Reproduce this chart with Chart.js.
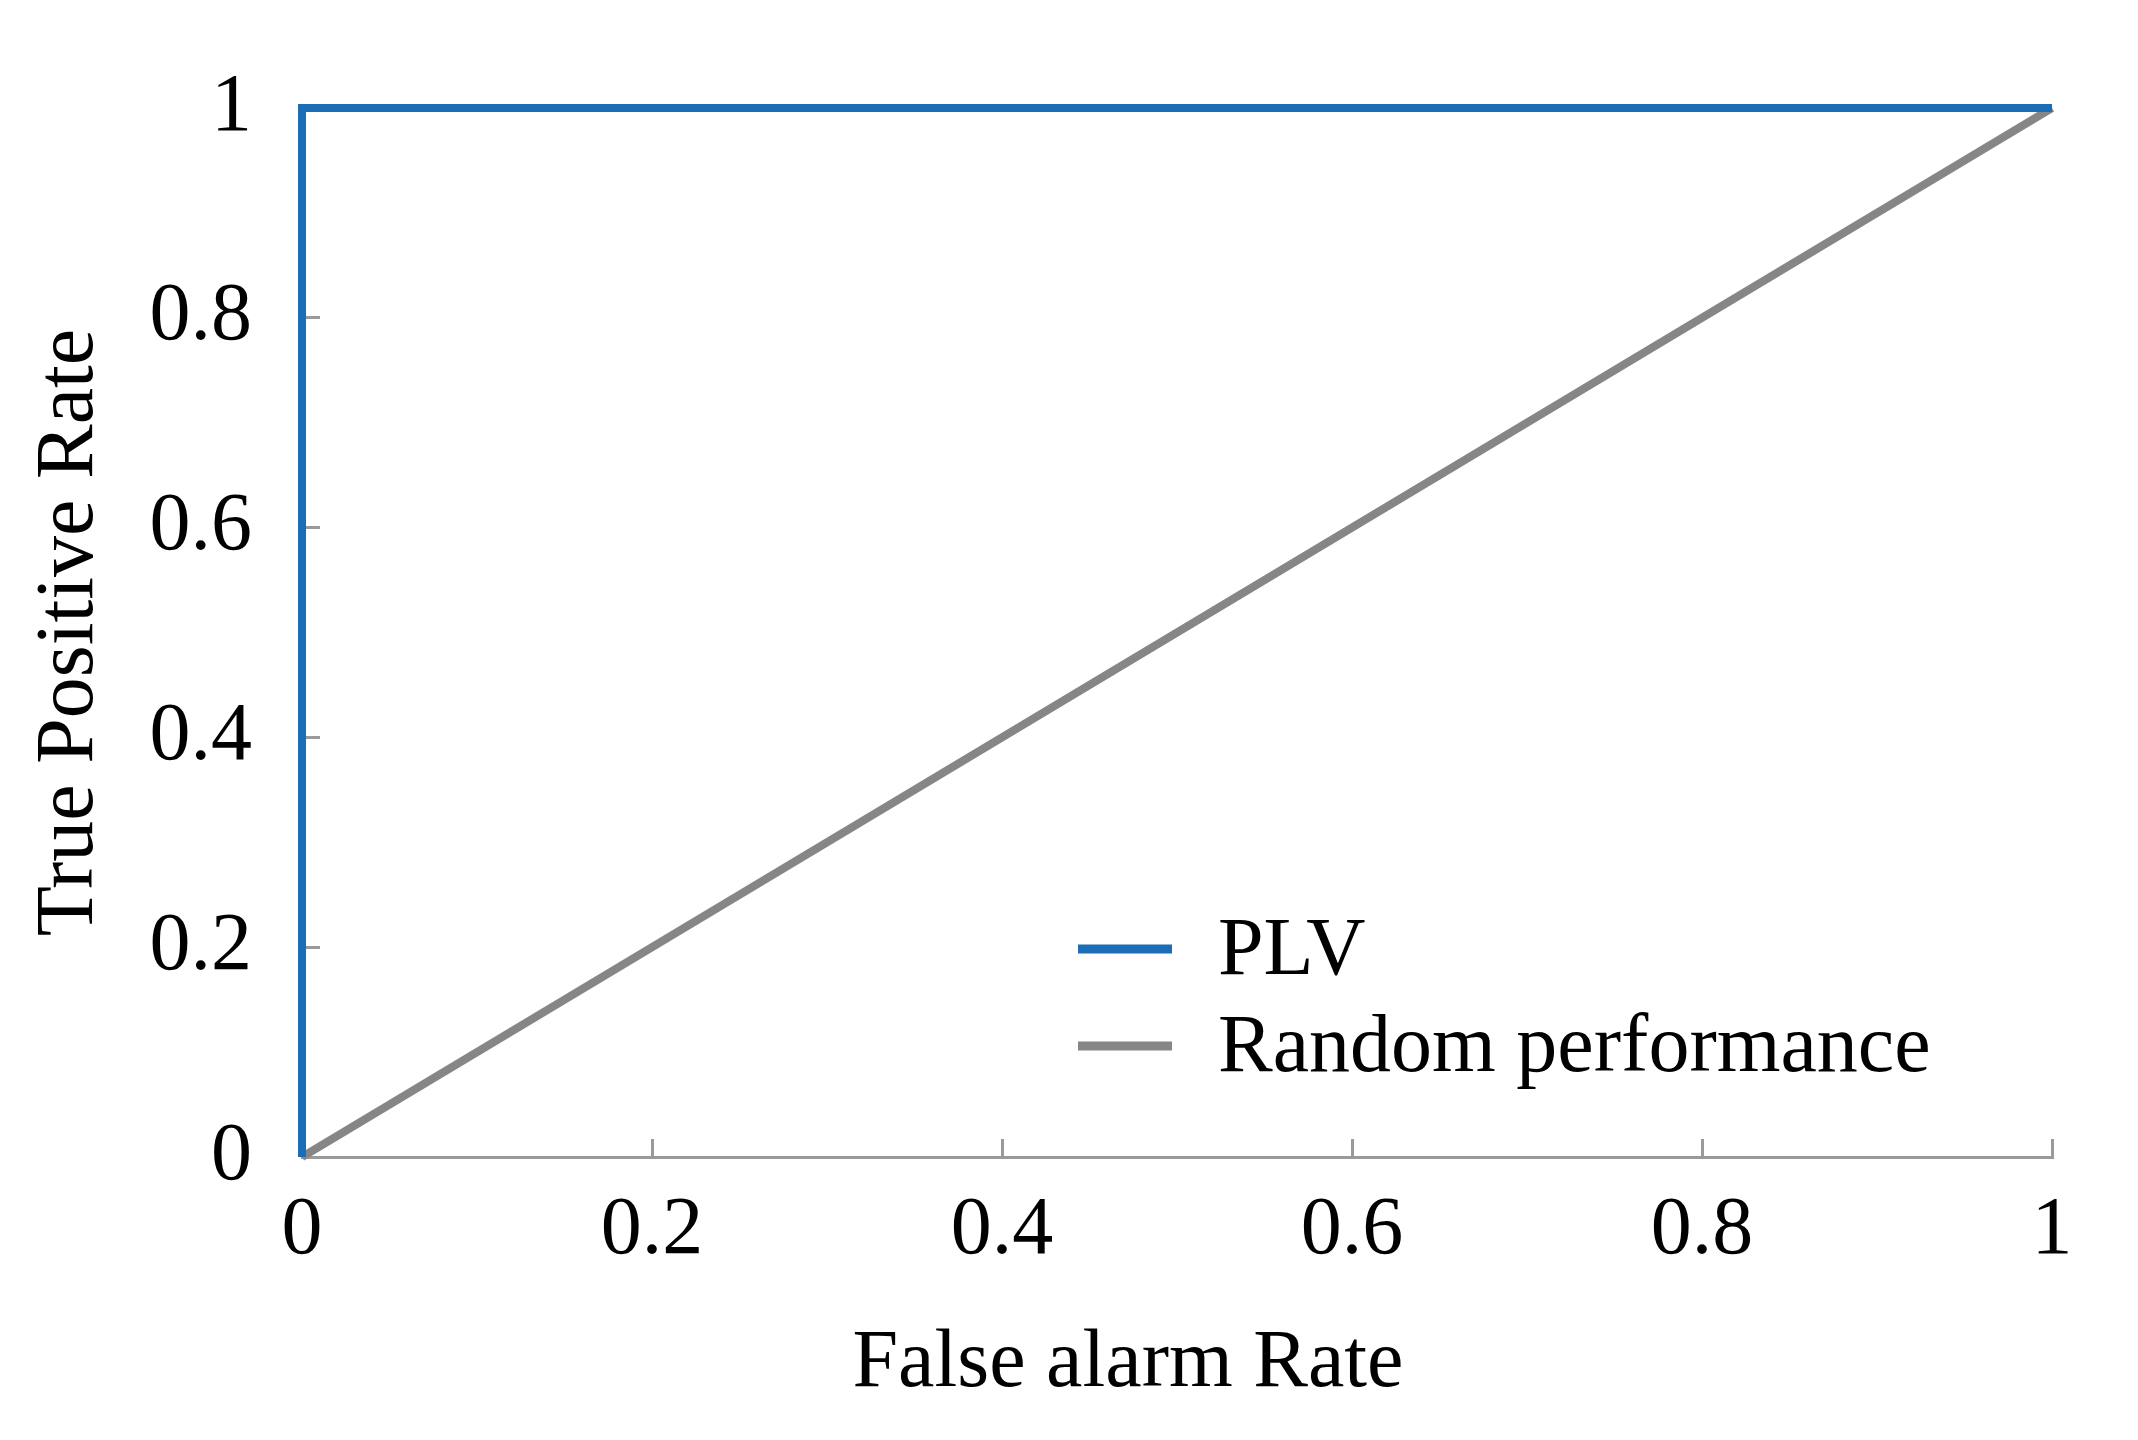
<!DOCTYPE html>
<html>
<head>
<meta charset="utf-8">
<title>ROC curve</title>
<script src="https://cdn.jsdelivr.net/npm/chart.js@4.4.1/dist/chart.umd.min.js"></script>
<style>
  html, body { margin:0; padding:0; background:#fff; }
  #wrap { width:2138px; height:1440px; position:relative; }
</style>
</head>
<body>
<div id="wrap"><canvas id="roc"></canvas></div>
<script>
// data
const plvX = [0, 0, 1];
const plvY = [0, 1, 1];
const randomX = [0, 1];
const randomY = [0, 1];
const seriesNames = ['PLV', 'Random performance'];
const xTickLabels = ['0', '0.2', '0.4', '0.6', '0.8', '1'];
const yTickLabels = ['0', '0.2', '0.4', '0.6', '0.8', '1'];
const xTitle = 'False alarm Rate';
const yTitle = 'True Positive Rate';

const FONT = "'Liberation Serif', 'Times New Roman', serif";
const BLUE = '#1b6eb5';
const GREY = '#868686';
const AXIS = '#9a9a9a';

function toPoints(xs, ys){ return xs.map((x, i) => ({ x, y: ys[i] })); }

// legend drawn inside the plot, lower right
const insideLegend = {
  id: 'insideLegend',
  afterDatasetsDraw(chart){
    const ctx = chart.ctx;
    const left = 1078, top = 949, gap = 97;
    ctx.save();
    chart.data.datasets.forEach((ds, i) => {
      const y = top + i*gap;
      ctx.strokeStyle = ds.borderColor;
      ctx.lineWidth = 9;
      ctx.beginPath();
      ctx.moveTo(left, y);
      ctx.lineTo(left + 94, y);
      ctx.stroke();
      ctx.fillStyle = '#000';
      ctx.font = '82px ' + FONT;
      ctx.textBaseline = 'alphabetic';
      ctx.textAlign = 'left';
      ctx.fillText(ds.label, left + 140, y + 25);
    });
    ctx.restore();
  }
};

// x axis title sits a little left of the axis centre in the original
const xAxisTitle = {
  id: 'xAxisTitle',
  afterDraw(chart){
    const s = chart.scales.x;
    const ctx = chart.ctx;
    ctx.save();
    ctx.fillStyle = '#000';
    ctx.font = '82px ' + FONT;
    ctx.textAlign = 'center';
    ctx.textBaseline = 'alphabetic';
    ctx.fillText(xTitle, (s.left + s.right)/2 - 49, s.bottom - 54);
    ctx.restore();
  }
};

const ctx = document.getElementById('roc').getContext('2d');
new Chart(ctx, {
  type: 'scatter',
  data: {
    datasets: [
      {
        label: seriesNames[0],
        data: toPoints(plvX, plvY),
        showLine: true,
        borderColor: BLUE,
        backgroundColor: BLUE,
        borderWidth: 8,
        pointRadius: 0,
        clip: 12
      },
      {
        label: seriesNames[1],
        data: toPoints(randomX, randomY),
        showLine: true,
        borderColor: GREY,
        backgroundColor: GREY,
        borderWidth: 8,
        pointRadius: 0,
        clip: 12
      }
    ]
  },
  options: {
    responsive: true,
    maintainAspectRatio: false,
    animation: false,
    layout: { padding: { left: 0, top: 108, right: 86, bottom: 0 } },
    plugins: {
      legend: { display: false },
      tooltip: { enabled: false }
    },
    scales: {
      x: {
        type: 'linear',
        min: 0, max: 1,
        afterFit: s => { s.height = 283; s.paddingLeft = 0; s.paddingRight = 0; },
        afterBuildTicks: s => { s.ticks = xTickLabels.map(Number).map(v => ({ value: v })); },
        ticks: {
          callback: (v, i) => xTickLabels[i],
          color: '#000',
          font: { family: FONT, size: 82 },
          padding: 43,
          maxRotation: 0,
          autoSkip: false
        },
        grid: { drawOnChartArea: false, drawTicks: true, tickLength: -18, color: AXIS, lineWidth: 3 },
        border: { display: true, color: AXIS, width: 3 },
        title: { display: false, text: xTitle }
      },
      y: {
        type: 'linear',
        min: 0, max: 1,
        afterFit: s => { s.width = 302; s.paddingTop = 0; s.paddingBottom = 0; },
        afterBuildTicks: s => { s.ticks = yTickLabels.map(Number).map(v => ({ value: v })); },
        ticks: {
          callback: (v, i) => yTickLabels[i],
          color: '#000',
          font: { family: FONT, size: 82 },
          padding: 68,
          autoSkip: false
        },
        grid: { drawOnChartArea: false, drawTicks: true, tickLength: -18, color: AXIS, lineWidth: 3 },
        border: { display: true, color: AXIS, width: 3 },
        title: {
          display: true, text: yTitle, color: '#000',
          font: { family: FONT, size: 82 },
          padding: { top: 21, bottom: 0 }
        }
      }
    }
  },
  plugins: [insideLegend, xAxisTitle]
});
</script>
</body>
</html>
